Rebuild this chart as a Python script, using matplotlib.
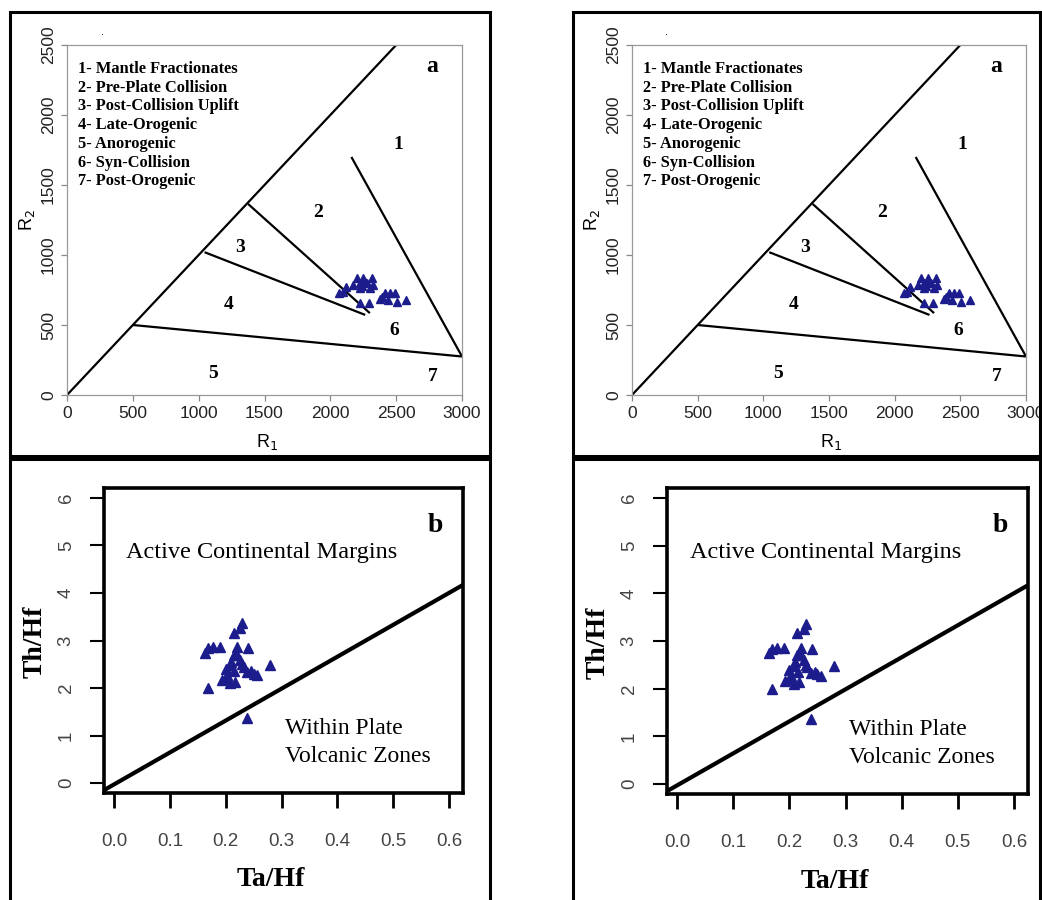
import matplotlib.pyplot as plt
from matplotlib.patches import Rectangle

plt.rcParams['font.family'] = ['Liberation Sans', 'DejaVu Sans']

# panel a: R1-R2 diagram
r1 = [2093, 2068, 2119, 2174, 2200, 2250, 2313, 2225, 2275, 2326, 2225, 2300,
      2389, 2414, 2452, 2490, 2439, 2503, 2574, 2225, 2295, 2376, 2240, 2260]
r2 = [738, 726, 774, 786, 833, 833, 833, 798, 798, 786, 762, 762,
      702, 726, 726, 726, 679, 666, 679, 660, 655, 683, 780, 810]

# field boundaries: (x pair, y pair)
a_lines = [
    ([0, 2500], [0, 2500]),
    ([500, 3000], [500, 275]),
    ([2160, 3000], [1700, 275]),
    ([1375, 2300], [1365, 585]),
    ([1045, 2265], [1020, 572]),
]
a_fields = ["1", "2", "3", "4", "5", "6", "7"]
a_field_x = [2513, 1906, 1314, 1230, 1109, 2485, 2779]
a_field_y = [1786, 1307, 1050, 643, 157, 464, 129]
legend_items = ["1- Mantle Fractionates", "2- Pre-Plate Collision",
                "3- Post-Collision Uplift", "4- Late-Orogenic",
                "5- Anorogenic", "6- Syn-Collision", "7- Post-Orogenic"]

# panel b: Th/Hf vs Ta/Hf
ta = [0.229, 0.226, 0.214, 0.169, 0.178, 0.19, 0.22, 0.24, 0.163, 0.214,
      0.226, 0.208, 0.232, 0.28, 0.238, 0.256, 0.25, 0.202, 0.208, 0.193,
      0.217, 0.169, 0.238, 0.21, 0.22, 0.2, 0.215, 0.23, 0.245, 0.2]
th = [3.36, 3.26, 3.16, 2.84, 2.86, 2.86, 2.86, 2.84, 2.74, 2.7,
      2.6, 2.48, 2.45, 2.48, 2.33, 2.27, 2.3, 2.27, 2.1, 2.17,
      2.13, 2.0, 1.37, 2.55, 2.7, 2.4, 2.35, 2.5, 2.35, 2.2]
b_line_x = [-0.018, 0.625]
b_line_y = [-0.15, 4.17]

blue = '#1c1c8c'
serif = 'Liberation Serif'
W, H = 1042, 900


def draw_a(ax):
    for xs, ys in a_lines:
        ax.plot(xs, ys, color='black', lw=1.6, solid_capstyle='butt')
    ax.plot(r1, r2, '^', color=blue, ms=6, mec=blue)
    for lab, x, y in zip(a_fields, a_field_x, a_field_y):
        ax.text(x, y, lab, fontfamily=serif, fontweight='bold', fontsize=14,
                ha='center', va='center')
    ax.text(2772, 2343, "a", fontfamily=serif, fontweight='bold', fontsize=17,
            ha='center', va='center')
    for i, item in enumerate(legend_items):
        ax.text(80, 2330 - i * 134, item, fontfamily=serif, fontweight='bold',
                fontsize=11.8, ha='left', va='center')
    ax.set_xlim(0, 3000)
    ax.set_ylim(0, 2500)
    ax.set_xticks(range(0, 3001, 500))
    ax.set_yticks(range(0, 2501, 500))
    for s in ax.spines.values():
        s.set_color('#999999')
        s.set_linewidth(0.9)
    ax.tick_params(length=4, width=0.9, color='#888888', labelsize=12.5,
                   pad=4, labelcolor='#222222')
    plt.setp(ax.get_yticklabels(), rotation=90, va='center')
    ax.set_xlabel("R$_1$", fontsize=13)
    ax.set_ylabel("R$_2$", fontsize=13)
    ax.xaxis.set_label_coords(0.506, -0.134)
    ax.yaxis.set_label_coords(-0.101, 0.5)
    ax.xaxis.label.set_va('center')
    ax.yaxis.label.set_va('center')


def draw_b(ax):
    ax.plot(b_line_x, b_line_y, color='black', lw=3)
    ax.plot(ta, th, '^', color=blue, ms=6.5, mec=blue)
    ax.text(0.575, 5.43, "b", fontfamily=serif, fontweight='bold', fontsize=20,
            ha='center', va='center')
    ax.text(0.265, 4.86, "Active Continental Margins", fontfamily=serif,
            fontsize=17.5, ha='center', va='center')
    ax.text(0.306, 0.85, "Within Plate\nVolcanic Zones", fontfamily=serif,
            fontsize=17, ha='left', va='center', linespacing=1.45)
    ax.set_xlim(-0.018, 0.625)
    ax.set_ylim(-0.21, 6.21)
    ax.set_xticks([0.0, 0.1, 0.2, 0.3, 0.4, 0.5, 0.6])
    ax.set_xticklabels(["0.0", "0.1", "0.2", "0.3", "0.4", "0.5", "0.6"])
    ax.set_yticks(range(0, 7))
    for s in ax.spines.values():
        s.set_linewidth(2.6)
    ax.tick_params(axis='x', length=11, width=2, pad=18, labelsize=13.5,
                   labelcolor='#444444')
    ax.tick_params(axis='y', length=10, width=1.5, pad=11, labelsize=13.5,
                   labelcolor='#444444')
    plt.setp(ax.get_yticklabels(), rotation=90, va='center')
    ax.set_xlabel("Ta/Hf", fontfamily=serif, fontweight='bold', fontsize=20)
    ax.set_ylabel("Th/Hf", fontfamily=serif, fontweight='bold', fontsize=20)
    ax.xaxis.set_label_coords(0.465, -0.285)
    ax.yaxis.set_label_coords(-0.192, 0.495)
    ax.xaxis.label.set_va('center')
    ax.yaxis.label.set_va('center')


fig = plt.figure(figsize=(W / 100, H / 100), dpi=100)

# pixel boxes (left, top, right, bottom)
top_axes = [(67, 45, 462, 395), (632, 45, 1026, 395)]
bot_axes = [(104, 488, 463, 793), (667, 488, 1028, 794)]

for (l, t, r, b) in top_axes:
    ax = fig.add_axes([l / W, 1 - b / H, (r - l) / W, (b - t) / H])
    draw_a(ax)
    fig.text((l + 35) / W, 1 - 35 / H, ".", fontsize=8, ha='center')

for (l, t, r, b) in bot_axes:
    ax = fig.add_axes([l / W, 1 - b / H, (r - l) / W, (b - t) / H])
    draw_b(ax)

# panel frames
for (x0, x1) in [(10, 490), (573, 1040)]:
    for (y0, y1) in [(12, 456), (459, 905)]:
        fig.add_artist(Rectangle((x0 / W, 1 - y1 / H), (x1 - x0) / W,
                                 (y1 - y0) / H, transform=fig.transFigure,
                                 fill=False, lw=2.2, ec='black'))

fig.savefig("out.png", dpi=100)
